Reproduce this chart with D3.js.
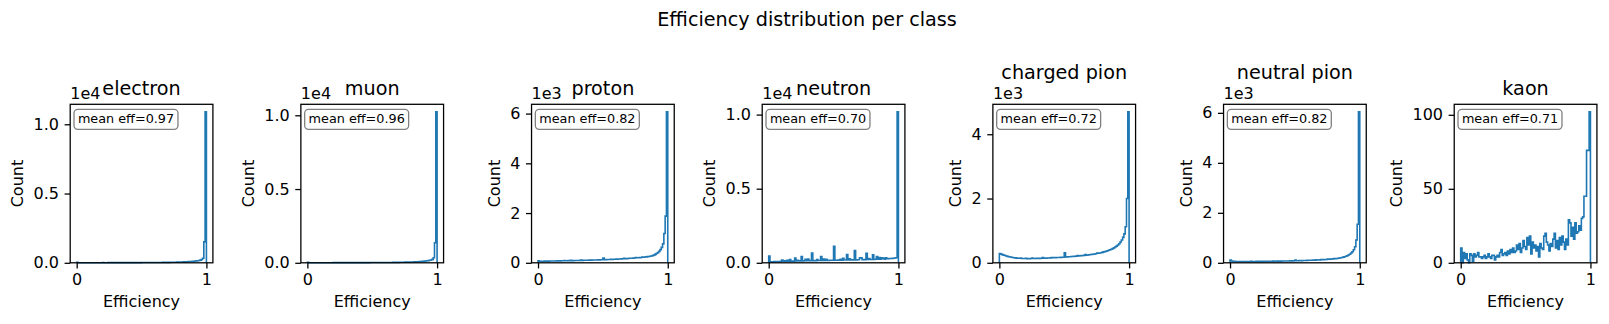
<!DOCTYPE html>
<html>
<head>
<meta charset="utf-8">
<script src="https://cdnjs.cloudflare.com/ajax/libs/d3/7.8.5/d3.min.js"></script>
<style>
  body { margin: 0; background: #fff; }
  svg text { font-family: "DejaVu Sans", sans-serif; fill: #000; }
</style>
</head>
<body>
<div id="chart"></div>
<script>
// classes and their mean efficiency (shown in the box)
const classNames = ["electron", "muon", "proton", "neutron", "charged pion", "neutral pion", "kaon"];
const meanEff = ["0.97", "0.96", "0.82", "0.70", "0.72", "0.82", "0.71"];

// counts per bin, 100 bins from 0 to 1
const electronCounts = [40,8,6,7,5,6,7,5,6,8, 9,7,8,6,9,7,8,9,7,8, 10,8,9,8,10,12,9,10,9,11,
  10,11,12,14,11,12,13,12,14,13, 15,13,14,15,14,16,15,16,17,16, 25,17,18,17,19,18,20,19,21,20,
  24,22,23,24,25,26,30,28,29,31, 33,34,36,38,40,45,44,47,50,53, 58,60,64,68,72,78,84,90,97,105,
  115,125,138,152,170,195,235,330,1514,10897];
const muonCounts = [35,7,6,6,5,6,6,5,7,6, 8,7,7,6,8,7,8,8,7,8, 9,8,9,8,9,11,9,9,10,10,
  10,10,11,13,11,11,12,12,13,12, 14,13,13,14,14,15,15,15,16,16, 22,17,17,18,18,18,19,19,20,20,
  23,21,22,23,24,25,28,27,28,30, 32,33,35,37,39,43,43,46,49,52, 56,59,62,66,70,76,82,88,95,103,
  112,122,135,150,168,192,230,340,1356,10233];
const protonCounts = [85,62,63,64,65,66,67,68,69,70, 72,73,74,75,76,78,84,79,80,82,
  90,84,85,86,87,96,88,89,91,90, 94,95,96,112,98,100,101,103,104,106,
  112,108,110,112,113,115,117,118,120,122, 190,126,128,130,132,134,136,138,140,143,
  155,149,151,154,157,160,178,166,169,172, 180,181,185,189,193,212,201,205,210,215,
  232,226,232,240,248,256,265,276,290,308, 340,375,410,460,530,620,760,1180,1877,6070];
const neutronCounts = [450,60,70,75,80,85,85,90,90,95, 180,100,140,100,170,110,220,110,120,115,
  320,120,170,125,130,420,130,135,240,140, 250,140,145,650,150,150,150,220,155,155,
  430,160,260,160,230,165,165,170,170,170, 1120,175,175,180,180,240,180,300,185,185,
  560,190,270,195,195,200,820,200,205,205, 330,340,210,215,215,640,220,280,225,225,
  540,230,235,420,235,360,240,330,300,245, 330,280,285,290,295,300,310,320,340,10185];
const chargedPionCounts = [290,270,255,240,225,212,200,190,180,172, 165,158,152,147,143,140,150,135,133,132,
  140,130,130,131,132,145,133,134,138,136, 140,139,140,165,143,145,146,150,150,152,
  165,156,160,160,163,165,167,170,172,175, 310,180,183,186,190,194,197,200,203,207,
  225,214,218,222,226,230,255,240,245,250, 256,262,268,275,282,300,298,306,315,325,
  340,348,360,375,390,405,422,442,465,490, 520,555,595,645,710,790,900,1120,2000,4697];
const neutralPionCounts = [110,75,62,56,53,51,50,50,50,50, 51,51,52,52,53,53,58,54,54,55,
  58,56,57,57,58,62,59,60,60,61, 64,62,63,72,64,65,66,67,68,69,
  74,71,72,73,74,75,76,78,79,80, 115,83,84,86,87,89,90,92,94,96,
  104,100,102,104,106,108,122,113,115,118, 128,124,127,130,134,146,142,146,151,156,
  170,168,175,182,190,200,212,226,243,262, 285,310,345,390,445,520,640,910,1540,6040];
const kaonCounts = [10,0,7,3,6,2,0,6,5,1, 6,4,5,7,4,4,3,4,5,3, 4,6,4,3,5,5,2,4,5,4,
  7,9,5,6,7,5,8,6,9,7, 10,7,8,12,9,13,7,10,15,11, 9,17,12,18,6,14,10,12,8,11,
  4,13,10,9,18,20,14,12,8,13, 11,16,20,10,15,9,17,12,18,14, 9,16,12,29,27,18,24,16,27,20,
  21,25,22,30,31,45,45,76,76,102];

const counts = [electronCounts, muonCounts, protonCounts, neutronCounts, chargedPionCounts, neutralPionCounts, kaonCounts];

// tick values / labels
const xTickValues = [0, 1];
const xTickLabels = ["0", "1"];
const yTickValues = [[0, 5000, 10000], [0, 5000, 10000], [0, 2000, 4000, 6000], [0, 5000, 10000],
  [0, 2000, 4000], [0, 2000, 4000, 6000], [0, 50, 100]];
const yTickLabels = [["0.0", "0.5", "1.0"], ["0.0", "0.5", "1.0"], ["0", "2", "4", "6"], ["0.0", "0.5", "1.0"],
  ["0", "2", "4"], ["0", "2", "4", "6"], ["0", "50", "100"]];
const offsetLabels = ["1e4", "1e4", "1e3", "1e4", "1e3", "1e3", ""];

var width = 1609, height = 324;
var plotW = 142.7, plotH = 158.5, plotTop = 104.3, firstLeft = 70.2, gap = 230.67;
var titleY = [94.7, 94.7, 94.7, 94.7, 78.5, 78.5, 94.7];
var blue = "#1f77b4";

var svg = d3.select("#chart")
  .append("svg")
  .attr("width", width)
  .attr("height", height);

// figure title
svg.append("text")
  .attr("x", 807)
  .attr("y", 26)
  .attr("text-anchor", "middle")
  .style("font-size", "19.2px")
  .text("Efficiency distribution per class");

var edges = d3.range(101).map(i => i / 100);

classNames.forEach(function(name, i) {
  var left = firstLeft + i * gap;
  var data = counts[i];
  var g = svg.append("g").attr("transform", "translate(" + left + "," + plotTop + ")");

  var x = d3.scaleLinear().domain([-0.05, 1.05]).range([0, plotW]);
  var y = d3.scaleLinear().domain([0, d3.max(data) * 1.05]).range([plotH, 0]);

  // step outline like histtype="step"
  var pts = [[edges[0], 0]];
  data.forEach(function(c, j) {
    pts.push([edges[j], c]);
    pts.push([edges[j + 1], c]);
  });
  pts.push([edges[100], 0]);

  g.append("path")
    .datum(pts)
    .attr("fill", "none")
    .attr("stroke", blue)
    .attr("stroke-width", 1.6)
    .attr("stroke-linejoin", "miter")
    .attr("d", d3.line().x(d => x(d[0])).y(d => y(d[1])));

  // axes
  var xAxis = g.append("g")
    .attr("transform", "translate(0," + plotH + ")")
    .call(d3.axisBottom(x).tickValues(xTickValues).tickFormat((d, k) => xTickLabels[k])
      .tickSizeInner(5.6).tickSizeOuter(0).tickPadding(5.6));
  var yAxis = g.append("g")
    .call(d3.axisLeft(y).tickValues(yTickValues[i]).tickFormat((d, k) => yTickLabels[i][k])
      .tickSizeInner(5.6).tickSizeOuter(0).tickPadding(5.6));

  [xAxis, yAxis].forEach(function(a) {
    a.select(".domain").remove();
    a.selectAll("line").attr("stroke", "#000").attr("stroke-width", 1.28);
    a.selectAll("text").attr("font-size", null).style("font-size", "16px")
      .attr("font-family", null);
  });

  // frame
  g.append("rect")
    .attr("width", plotW)
    .attr("height", plotH)
    .attr("fill", "none")
    .attr("stroke", "#000")
    .attr("stroke-width", 1.28);

  // axis labels
  g.append("text")
    .attr("x", plotW / 2)
    .attr("y", plotH + 44.7)
    .attr("text-anchor", "middle")
    .style("font-size", "16px")
    .text("Efficiency");

  var tb = yAxis.node().getBBox();
  g.append("text")
    .attr("transform", "translate(" + (tb.x - 10.2) + "," + (plotH / 2) + ") rotate(-90)")
    .attr("text-anchor", "middle")
    .style("font-size", "16px")
    .text("Count");

  // offset text (1e4 / 1e3)
  if (offsetLabels[i]) {
    g.append("text")
      .attr("x", 0)
      .attr("y", -5)
      .style("font-size", "16px")
      .text(offsetLabels[i]);
  }

  // panel title
  g.append("text")
    .attr("x", plotW / 2)
    .attr("y", titleY[i] - plotTop)
    .attr("text-anchor", "middle")
    .style("font-size", "19.2px")
    .text(name);

  // mean efficiency box
  var bx = 3.8, by = 5;
  var box = g.append("rect");
  var label = g.append("text")
    .attr("x", bx + 3.9)
    .attr("y", by + 14)
    .style("font-size", "12.8px")
    .text("mean eff=" + meanEff[i]);
  var tw = label.node().getComputedTextLength();
  box.attr("x", bx)
    .attr("y", by)
    .attr("width", tw + 7.7)
    .attr("height", 20)
    .attr("rx", 3.8)
    .attr("fill", "#fff")
    .attr("stroke", "#808080")
    .attr("stroke-width", 1.3);
});
</script>
</body>
</html>
